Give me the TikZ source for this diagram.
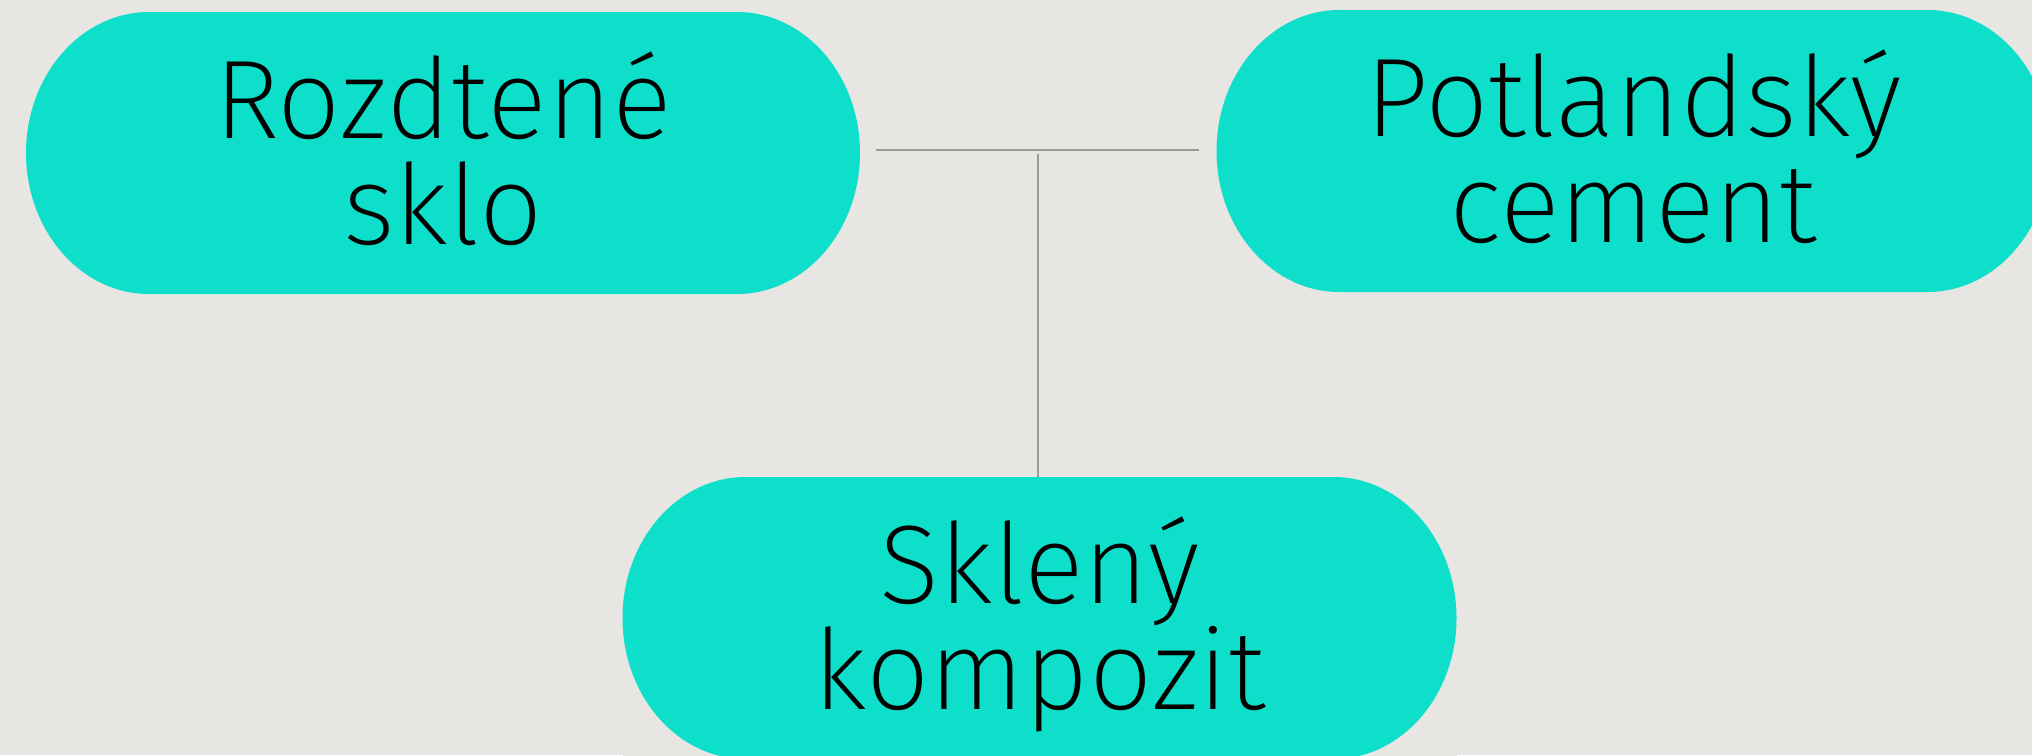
\documentclass[tikz,border=0pt]{standalone}
\usepackage{fontspec}
\setmainfont{Fira Sans ExtraLight}
\definecolor{bgc}{HTML}{E7E6E2}
\definecolor{tealc}{HTML}{0EDFCA}
\definecolor{linec}{HTML}{9A9A9A}
\begin{document}
\begin{tikzpicture}[x=0.5pt,y=-0.5pt,
  stad/.style={rectangle, inner sep=0pt, outer sep=0pt, minimum width=417pt, minimum height=141pt,
    fill=bgc, align=center, text height=91pt, text depth=0pt, font=\fontsize{55.9}{53}\selectfont,
    path picture={\fill[tealc] ([xshift=61.5pt]path picture bounding box.north west)
      -- ([xshift=-61.5pt]path picture bounding box.north east)
      arc[start angle=90,end angle=-90,x radius=61.5pt,y radius=70.5pt]
      -- ([xshift=61.5pt]path picture bounding box.south west)
      arc[start angle=270,end angle=90,x radius=61.5pt,y radius=70.5pt] -- cycle;}},
  conn/.style={draw=linec, line width=1pt}]
\useasboundingbox (0,0) rectangle (2032,755);
\fill[bgc] (0,0) rectangle (2032,755);
\node[stad] (n1) at (443,153) {Rozdtené\\sklo};
\node[stad] (n2) at (1633.5,151) {Potlandský\\cement};
\node[stad] (n3) at (1039.5,618) {Sklený\\kompozit};
\coordinate (j) at (1037.5,154);
\draw[conn] ([xshift=8pt,yshift=1.5pt]n1.east) -- ([xshift=-9pt,yshift=0.5pt]n2.west);
\draw[conn] (j) -- (j |- n3.north);
\end{tikzpicture}
\end{document}
